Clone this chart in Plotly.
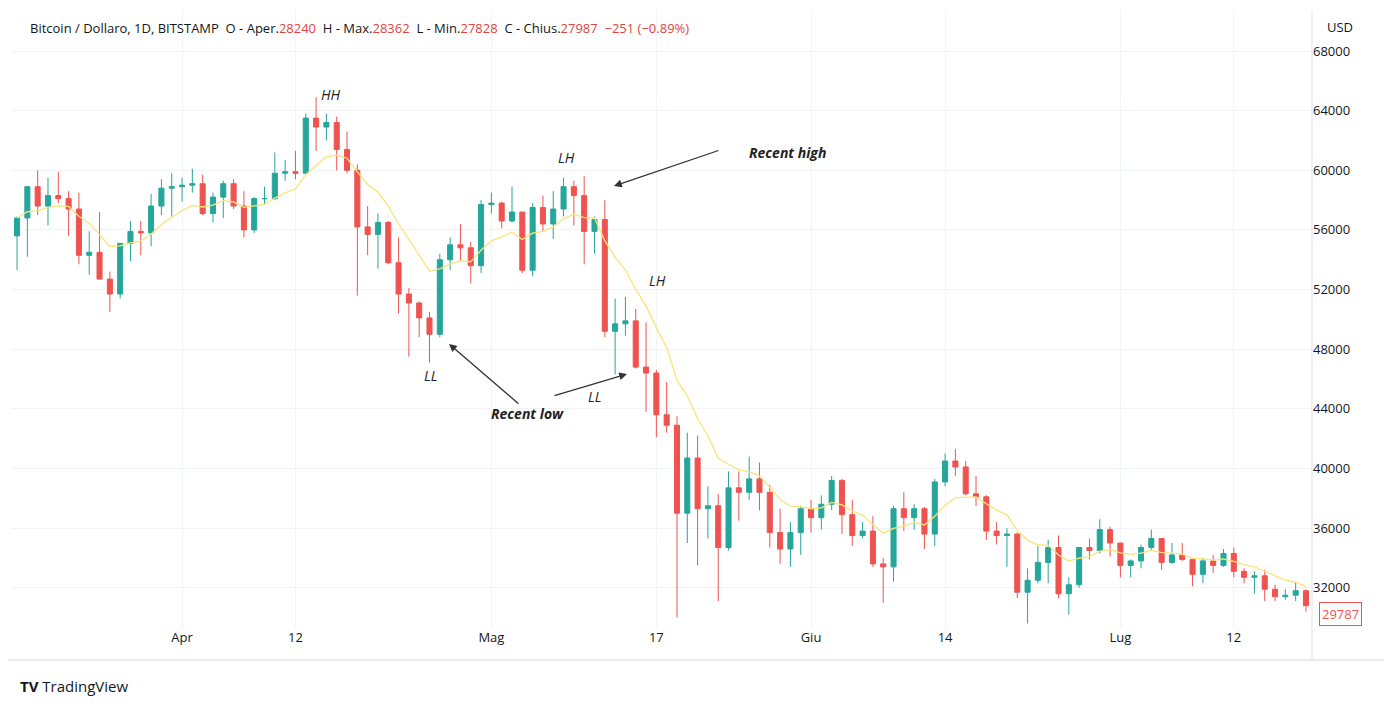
import plotly.graph_objects as go
import pandas as pd

start_date = "2021-03-16"
opens = [55.6,56.8,58.9,57.6,58.3,58.1,57.4,54.3,54.5,52.7,51.7,55.1,55.9,55.8,57.6,58.8,
 58.9,59.0,59.1,57.1,58.2,59.1,57.6,56.0,58.1,58.1,59.8,59.9,59.8,63.5,62.9,63.2,61.4,60.0,56.2,55.7,56.5,53.8,51.7,51.1,50.1,49.0,54.0,55.0,54.8,53.6,
 57.7,57.8,56.6,57.2,53.3,57.5,56.4,57.4,58.9,58.3,55.9,56.7,49.2,49.7,49.9,46.8,46.4,43.6,42.9,37.0,40.7,37.3,37.5,34.7,38.7,38.4,39.3,38.4,35.7,34.6,35.7,
 37.3,36.7,37.6,39.2,36.9,35.5,35.8,33.6,33.4,37.3,36.7,37.3,35.6,39.1,40.5,40.1,38.3,38.1,35.8,35.5,35.6,31.7,32.5,33.7,34.7,31.6,32.2,34.7,34.5,35.9,
 35.0,33.5,33.8,34.7,35.3,33.7,34.2,33.9,32.9,33.8,33.5,34.3,33.1,32.7,32.8,31.9,31.4,31.5,31.8]
highs = [56.9,58.9,60.0,59.5,59.9,58.6,58.5,55.9,57.2,53.2,55.1,56.6,56.6,58.4,59.4,59.8,
 59.5,60.1,59.7,58.5,59.3,59.4,58.6,58.2,58.9,61.2,60.7,61.3,63.8,64.9,63.8,63.6,62.6,60.4,57.6,57.1,56.6,55.5,52.1,51.2,50.5,54.4,55.5,56.4,55.2,58.0,
 58.5,57.9,58.9,57.2,57.8,58.3,58.6,59.5,59.3,59.6,56.9,58.0,51.4,51.5,50.7,49.8,46.6,45.8,43.5,42.4,42.2,38.8,38.3,39.8,39.8,40.8,40.4,38.9,37.3,36.4,37.5,
 37.9,38.2,39.5,39.3,37.9,36.4,36.8,34.0,37.5,38.4,37.6,37.4,39.3,41.0,41.3,40.5,39.5,38.2,36.4,36.0,35.7,33.3,34.8,35.2,35.5,32.7,34.7,35.3,36.6,
 36.1,35.0,33.9,34.9,35.9,35.3,35.0,35.0,33.9,34.0,34.2,34.6,34.7,33.3,33.1,33.2,32.2,31.9,32.4,31.9]
lows = [53.3,54.2,57.0,56.3,57.8,55.6,53.7,53.0,52.8,50.5,51.4,53.9,54.3,54.9,57.0,56.9,
 57.9,58.5,57.0,56.5,56.8,57.4,55.5,55.8,57.7,58.0,59.3,59.4,59.8,61.3,62.0,60.0,59.8,51.6,54.3,53.4,53.7,50.4,47.5,48.8,47.1,48.8,53.3,53.9,52.4,53.1,
 57.1,56.1,56.5,53.1,52.9,55.9,55.4,56.9,56.3,53.7,54.4,48.8,46.3,48.9,46.7,43.8,42.1,42.4,30.0,35.0,33.5,35.3,31.1,34.5,36.5,37.9,37.2,34.7,33.6,33.4,34.2,
 35.7,35.9,37.2,35.6,34.8,35.3,33.4,31.0,32.4,35.8,35.9,34.6,34.8,38.8,39.5,38.2,37.5,35.2,34.9,33.4,31.3,29.6,32.3,32.3,31.3,30.2,32.0,33.9,34.3,
 34.1,32.7,32.7,33.3,34.5,33.2,33.6,33.8,32.1,32.3,33.0,33.4,32.7,32.3,31.6,31.1,31.1,31.2,31.1,30.4]
closes = [56.8,58.9,57.6,58.3,58.1,57.4,54.3,54.5,52.7,51.7,55.1,55.9,55.8,57.6,58.8,58.9,
 59.0,59.1,57.1,58.2,59.1,57.6,56.0,58.1,58.1,59.8,59.9,59.8,63.5,62.9,63.2,61.4,60.0,56.2,55.7,56.5,53.8,51.7,51.1,50.1,49.0,54.0,55.0,54.8,53.6,57.7,
 57.8,56.6,57.2,53.3,57.5,56.4,57.4,58.9,58.3,55.9,56.7,49.2,49.7,49.9,46.8,46.4,43.6,42.9,37.0,40.7,37.3,37.5,34.7,38.7,38.4,39.3,38.4,35.7,34.6,35.7,37.3,
 36.7,37.6,39.2,36.9,35.5,35.8,33.6,33.4,37.3,36.7,37.3,35.6,39.1,40.5,40.1,38.3,38.1,35.8,35.5,35.6,31.7,32.5,33.7,34.7,31.6,32.2,34.7,34.5,35.9,35.0,
 33.5,33.8,34.7,35.3,33.7,34.2,33.9,32.9,33.8,33.5,34.3,33.1,32.7,32.8,31.9,31.4,31.5,31.8,30.8]
y_ticks = [32000,36000,40000,44000,48000,52000,56000,60000,64000,68000]
x_tick_dates = ["2021-04-01","2021-04-12","2021-05-01","2021-05-17","2021-06-01","2021-06-14","2021-07-01","2021-07-12"]
x_tick_text = ["Apr","12","Mag","17","Giu","14","Lug","12"]

n = min(len(opens), len(highs), len(lows), len(closes))
k = 1000
dates = pd.date_range(start_date, periods=n, freq="D")
O = [v*k for v in opens[:n]]; H = [v*k for v in highs[:n]]; L = [v*k for v in lows[:n]]; C = [v*k for v in closes[:n]]
ema = pd.Series(C).ewm(span=9, adjust=False).mean()

GREEN, RED = "#26a69a", "#ef5350"
fig = go.Figure()
fig.add_trace(go.Candlestick(x=dates, open=O, high=H, low=L, close=C,
    increasing=dict(line=dict(color=GREEN, width=1), fillcolor=GREEN),
    decreasing=dict(line=dict(color=RED, width=1), fillcolor=RED),
    whiskerwidth=0, showlegend=False))
fig.add_trace(go.Scatter(x=dates, y=ema, mode="lines", line=dict(color="#f7e57a", width=1.3),
    showlegend=False, hoverinfo="skip"))

# page has an 8px body margin: figure coords = reference coords - 8
OFF = 8
W, Hh = 1392 - OFF, 707 - OFF
L_PX, R_PX, T_PX, B_PX = 12, 1312, 10, 628   # reference pixel coords of plot area
def px(x, y):
    return (x - L_PX) / (R_PX - L_PX), (B_PX - y) / (B_PX - T_PX)

ann = []
def text_at(text, x, y, size=13, color="#222", xanchor="center", **kw):
    xx, yy = px(x, y)
    ann.append(dict(x=xx, y=yy, xref="paper", yref="paper", text=text, showarrow=False,
                    xanchor=xanchor, yanchor="middle",
                    font=dict(size=size, color=color, family="Open Sans"), **kw))

def label(text, x, y, size=14, bold=False):
    t = f"<b><i>{text}</i></b>" if bold else f"<i>{text}</i>"
    text_at(t, x, y, size)
label("HH", 331, 94); label("LH", 566, 157); label("LH", 657, 280)
label("LL", 430, 375); label("LL", 594, 397)
label("Recent high", 787, 152, 14, True); label("Recent low", 527, 413, 14, True)

def arrow(x0, y0, x1, y1):
    a, b = px(x1, y1); c, d = px(x0, y0)
    ann.append(dict(x=a, y=b, ax=c, ay=d, xref="x domain", yref="y domain", axref="x domain", ayref="y domain",
                    text="", showarrow=True, arrowhead=2, arrowsize=1.2, arrowwidth=1.3, arrowcolor="#333"))
arrow(720, 150, 614, 186); arrow(520, 405, 449, 344); arrow(553, 396, 627, 374)

red = "#e0443f"
header = ("Bitcoin / Dollaro, 1D, BITSTAMP&nbsp;&nbsp;O - Aper.<span style='color:%s'>28240</span>&nbsp;&nbsp;"
          "H - Max.<span style='color:%s'>28362</span>&nbsp;&nbsp;L - Min.<span style='color:%s'>27828</span>&nbsp;&nbsp;"
          "C - Chius.<span style='color:%s'>27987&nbsp;&nbsp;−251 (−0.89%%)</span>") % (red, red, red, red)
text_at(header, 28, 28, 13, "#131722", xanchor="left")
text_at("USD", 1340, 27, 13, "#131722")
text_at("29787", 1340, 614, 13, RED, bordercolor=RED, borderwidth=1, bgcolor="white", borderpad=2)
text_at("<b>TV</b> TradingView", 18, 686, 15, "#131722", xanchor="left")

fig.update_layout(
    width=W, height=Hh, paper_bgcolor="white", plot_bgcolor="white",
    margin=dict(l=L_PX - OFF, r=1392 - R_PX, t=T_PX - OFF, b=707 - B_PX, autoexpand=False),
    annotations=ann,
    xaxis=dict(range=["2021-03-15 12:15", "2021-07-19 14:00"], rangeslider=dict(visible=False),
               tickvals=x_tick_dates, ticktext=x_tick_text, showgrid=True, gridcolor="#f0f3fa",
               tickfont=dict(size=13, color="#131722", family="Open Sans"), ticks="", zeroline=False),
    yaxis=dict(range=[29300, 70750], side="right", tickvals=y_ticks, ticktext=[str(v) for v in y_ticks],
               showgrid=True, gridcolor="#f0f3fa", zeroline=False,
               tickfont=dict(size=13, color="#131722", family="Open Sans")),
    shapes=[dict(type="line", xref="paper", yref="paper", x0=-0.01, x1=1.06,
                 y0=px(0, 660)[1], y1=px(0, 660)[1], line=dict(color="#d1d4dc", width=1)),
            dict(type="line", xref="paper", yref="paper", x0=1.0, x1=1.0, y0=px(0,660)[1], y1=1.0,
                 line=dict(color="#e0e3eb", width=1))],
)
fig.write_html("out.html")
